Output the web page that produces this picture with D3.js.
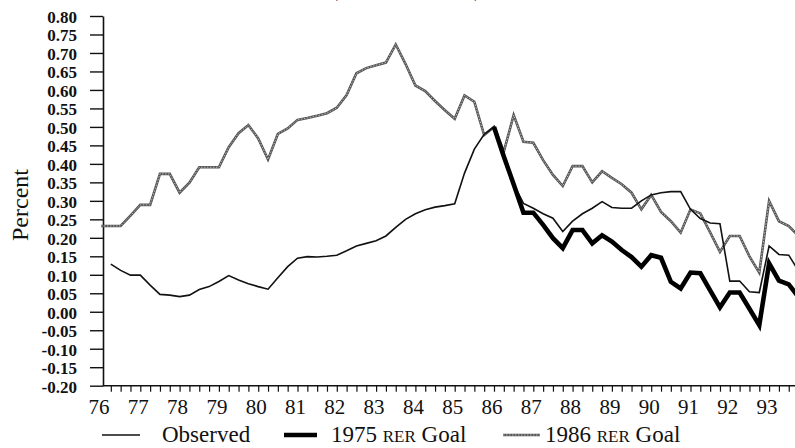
<!DOCTYPE html>
<html><head><meta charset="utf-8">
<script src="https://cdn.jsdelivr.net/npm/d3@7/dist/d3.min.js"></script>
<style>body{margin:0;background:#fff} svg{display:block}</style>
</head><body>
<svg id="chart" width="795" height="448"></svg>
<script>
// ---- data (quarterly, years 19xx) ----
const grayStart = 76.0;   // 1986 RER goal series starts 1976Q1
const gray1986 = [
  0.232,0.232,0.232,0.260, 0.289,0.289,0.373,0.373, 0.322,0.349,0.391,0.391,
  0.391,0.445,0.483,0.505, 0.469,0.412,0.481,0.496, 0.519,0.524,0.530,0.537,
  0.552,0.586,0.645,0.659, 0.667,0.674,0.723,0.670, 0.612,0.597,0.570,0.545,
  0.522,0.585,0.568,0.478, 0.500,0.433,0.532,0.460, 0.457,0.410,0.370,0.340,
  0.394,0.394,0.350,0.380, 0.362,0.345,0.322,0.277, 0.316,0.270,0.245,0.214,
  0.277,0.266,0.215,0.162, 0.205,0.205,0.150,0.106, 0.300,0.245,0.232,0.205
];
const obsStart = 76.25;   // observed starts 1976Q2
const observed = [
  0.129,0.112,0.099,
  0.099,0.072,0.047,0.045, 0.041,0.045,0.060,0.068, 0.082,0.098,0.086,0.076,
  0.068,0.061,0.092,0.122, 0.145,0.149,0.148,0.150, 0.153,0.165,0.178,0.185,
  0.192,0.205,0.228,0.250, 0.265,0.276,0.283,0.287, 0.292,0.375,0.440,0.480,
  0.500,0.420,0.345,0.293, 0.280,0.265,0.253,0.217, 0.245,0.265,0.280,0.298,
  0.282,0.280,0.280,0.300, 0.316,0.322,0.325,0.325, 0.277,0.252,0.240,0.238,
  0.083,0.083,0.054,0.052, 0.178,0.155,0.153,0.110
];
const thickStart = 86.0;  // 1975 RER goal starts 1986Q1
const goal1975 = [
  0.500,0.420,0.345,0.268, 0.268,0.235,0.199,0.172, 0.221,0.221,0.185,0.207,
  0.190,0.167,0.148,0.122, 0.153,0.146,0.081,0.063, 0.106,0.104,0.058,0.012,
  0.052,0.052,0.008,-0.036, 0.131,0.084,0.074,0.040
];
const yTicks = [-0.20,-0.15,-0.10,-0.05,0.00,0.05,0.10,0.15,0.20,0.25,0.30,0.35,0.40,0.45,0.50,0.55,0.60,0.65,0.70,0.75,0.80];
const yearLabels = ["76","77","78","79","80","81","82","83","84","85","86","87","88","89","90","91","92","93"];
const legendItems = ["Observed","1975 RER Goal","1986 RER Goal"];

// ---- drawing ----
const FONT = "'Liberation Serif','Times New Roman',serif";
const svg = d3.select("#chart");
const x = d3.scaleLinear().domain([76, 94]).range([101, 101 + 18 * 39.3]);
const y = d3.scaleLinear().domain([-0.2, 0.8]).range([385.7, 16]);

const toPts = (arr, start) => arr.map((v, i) => [start + i / 4, v]);
const line = d3.line().x(d => x(d[0])).y(d => y(d[1]));

// partially visible title (cut off at top in the reference)
svg.append("text").attr("x", 330).attr("y", -4)
  .attr("font-family", FONT).attr("font-size", 24)
  .attr("textLength", 152).attr("lengthAdjust", "spacing")
  .text("(Percent Deviation)");

// y axis
const fmt = d3.formatLocale({decimal: ".", thousands: ",", grouping: [3], currency: ["", ""], minus: "-"}).format(".2f");
const yAxis = svg.append("g").attr("transform", "translate(103,0)")
  .call(d3.axisLeft(y).tickValues(yTicks).tickSize(13).tickSizeOuter(0).tickPadding(13).tickFormat(fmt));
yAxis.selectAll("text").attr("font-family", FONT).attr("font-size", 17).attr("font-weight", "bold").attr("fill", "#111").attr("dy", "0.38em");
yAxis.selectAll("line").attr("stroke", "#111").attr("stroke-width", 1.4);
yAxis.select(".domain").attr("stroke", "#111").attr("stroke-width", 1.6);

// x axis (quarterly ticks)
const qTicks = d3.range(1, 72).map(i => 76 + i / 4);
const xAxis = svg.append("g").attr("transform", `translate(0,${y(-0.2)})`)
  .call(d3.axisBottom(x).tickValues(qTicks).tickSize(6).tickSizeOuter(0).tickFormat(""));
xAxis.select(".domain").attr("stroke", "#111").attr("stroke-width", 1.6).attr("d", `M103,0H795`);
xAxis.selectAll("line").attr("stroke", "#111").attr("stroke-width", 1.2);

svg.append("g").selectAll("text").data(yearLabels).join("text")
  .attr("x", d => x(+d) - 2).attr("y", 414)
  .attr("text-anchor", "middle").attr("font-family", FONT).attr("font-size", 21).attr("fill", "#111")
  .text(d => d);

// y axis title
svg.append("text").attr("transform", "translate(28,205) rotate(-90)")
  .attr("text-anchor", "middle").attr("font-family", FONT).attr("font-size", 24).attr("fill", "#111")
  .text("Percent");

// series
function grayLine(path, g) {
  g.append("path").attr("d", path).attr("fill", "none").attr("stroke", "#555").attr("stroke-width", 2.6).attr("stroke-linejoin", "miter");
  g.append("path").attr("d", path).attr("fill", "none").attr("stroke", "#c8c8c8").attr("stroke-width", 0.9).attr("stroke-dasharray", "1.5,1.5");
}
const gSeries = svg.append("g");
grayLine(line(toPts(gray1986, grayStart)), gSeries);
gSeries.append("path").attr("d", line(toPts(observed, obsStart))).attr("fill", "none").attr("stroke", "#111").attr("stroke-width", 1.6);
gSeries.append("path").attr("d", line(toPts(goal1975, thickStart))).attr("fill", "none").attr("stroke", "#000").attr("stroke-width", 4.6);

// legend
const lg = svg.append("g").attr("font-family", FONT).attr("font-size", 23).attr("fill", "#111");
const ly = 435, tb = 442;
lg.append("line").attr("x1", 102).attr("x2", 140).attr("y1", ly).attr("y2", ly).attr("stroke", "#111").attr("stroke-width", 1.6);
lg.append("text").attr("x", 162).attr("y", tb).text(legendItems[0]);
lg.append("line").attr("x1", 284).attr("x2", 317).attr("y1", ly).attr("y2", ly).attr("stroke", "#000").attr("stroke-width", 4.6);
function scText(xp, label) {
  const parts = label.split(" ");
  const t = lg.append("text").attr("x", xp).attr("y", tb);
  t.append("tspan").text(parts[0] + " ");
  t.append("tspan").attr("font-size", 17).text(parts[1]);
  t.append("tspan").text(" " + parts.slice(2).join(" "));
}
scText(331, legendItems[1]);
grayLine(`M503,${ly}H540`, lg);
scText(545, legendItems[2]);
</script>
</body></html>
